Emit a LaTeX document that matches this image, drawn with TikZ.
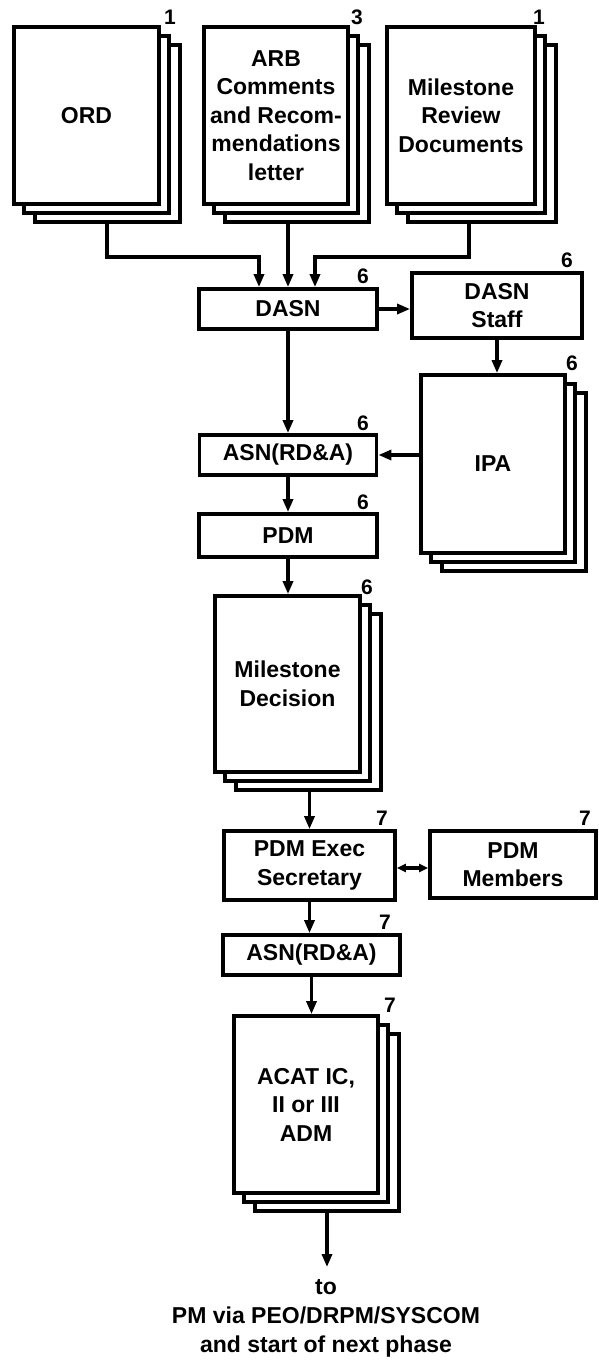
\documentclass[tikz,border=0pt]{standalone}
\usepackage{fontspec}
\setmainfont{Liberation Sans}
\usetikzlibrary{arrows.meta,calc}
\newcommand\docstack[6]{%
  \node[back, minimum width=#4, minimum height=#5] (#1-3) at (#2+21,#3+18) {};
  \node[back, minimum width=#4, minimum height=#5] (#1-2) at (#2+10,#3+9) {};
  \node[front, minimum width=#4, minimum height=#5] (#1) at (#2,#3) {#6};}
\begin{document}
\begin{tikzpicture}[x=1pt,y=-1pt,
  front/.style={draw, line width=3.8pt, fill=white, inner sep=2pt, align=center,
    font=\bfseries\fontsize{23}{28.5}\selectfont},
  back/.style={draw, line width=3.2pt, fill=white, inner sep=0pt},
  num/.style={font=\bfseries\fontsize{21}{21}\selectfont, inner sep=0pt},
  arr/.style={line width=3.2pt, -{Triangle[length=13pt,width=10pt]}},
  biarr/.style={line width=3.2pt, {Triangle[length=9pt,width=8pt]}-{Triangle[length=9pt,width=8pt]}},
  txt/.style={align=center, font=\bfseries\fontsize{23}{29}\selectfont, inner sep=0pt}]
\fill[white] (0,0) rectangle (599,1363);
\useasboundingbox (0,0) rectangle (599,1363);

% document stacks
\docstack{ord}{86.5}{115.5}{145}{177}{ORD}
\docstack{arb}{276}{115.5}{144}{177}{ARB\\Comments\\and Recom-\\mendations\\letter}
\docstack{mr}{461}{115.5}{148}{177}{Milestone\\Review\\Documents}
\docstack{ipa}{493}{464}{144}{178}{IPA}
\docstack{md}{287.5}{684}{145}{176}{Milestone\\Decision}
\docstack{acat}{306}{1104.5}{144}{177}{ACAT IC,\\II or III\\ADM}

% plain boxes
\node[front, minimum width=178, minimum height=40] (dasn) at (288,309) {DASN};
\node[front, minimum width=170, minimum height=65] (staff) at (497,305.5) {DASN\\Staff};
\node[front, minimum width=177, minimum height=40] (asn) at (288,455) {ASN(RD\&A)};
\node[front, minimum width=178, minimum height=43] (pdm) at (288,535.5) {PDM};
\node[front, minimum width=171, minimum height=69] (exec) at (309.5,865.5) {PDM Exec\\Secretary};
\node[front, minimum width=166, minimum height=67] (members) at (513,864.5) {PDM\\Members};
\node[front, minimum width=177, minimum height=40] (asn2) at (311.5,955) {ASN(RD\&A)};

% numbers
\node[num] (ord-n) at (170,17) {1};
\node[num] (arb-n) at (357,17) {3};
\node[num] (mr-n) at (539,17) {1};
\node[num] (dasn-n) at (363,276) {6};
\node[num] (staff-n) at (567,260) {6};
\node[num] (ipa-n) at (572,363) {6};
\node[num] (asn-n) at (363,423) {6};
\node[num] (pdm-n) at (363,502) {6};
\node[num] (md-n) at (367,587) {6};
\node[num] (exec-n) at (382,818) {7};
\node[num] (members-n) at (585,818) {7};
\node[num] (asn2-n) at (385,922) {7};
\node[num] (acat-n) at (390,1005) {7};

% connectors
\draw[arr] (107,0 |- ord-3.south) |- (259,257) -- (259,0 |- dasn.north);
\draw[arr] (dasn.north |- arb-3.south) -- (dasn.north);
\draw[arr] (469,0 |- mr-3.south) |- (315,257) -- (315,0 |- dasn.north);
\draw[arr] (dasn.east) -- (dasn.east -| staff.west);
\draw[arr] (staff.south) -- (staff.south |- ipa.north);
\draw[arr] (dasn.south) -- (asn.north);
\draw[arr] (ipa.west |- asn.east) -- (asn.east);
\draw[arr] (asn.south) -- (pdm.north);
\draw[arr] (pdm.south) -- (pdm.south |- md.north);
\draw[arr] (exec.north |- md-3.south) -- (exec.north);
\draw[biarr] (exec.east |- 0,868) -- (members.west |- 0,868);
\draw[arr] (exec.south) -- (exec.south |- asn2.north);
\draw[arr] (asn2.south) -- (asn2.south |- acat.north);
\coordinate (outend) at (327,1267);
\draw[arr] (outend |- acat-3.south) -- (outend);

\node[txt] (dest) at (326,1318) {to\\PM via PEO/DRPM/SYSCOM\\and start of next phase};
\end{tikzpicture}
\end{document}
